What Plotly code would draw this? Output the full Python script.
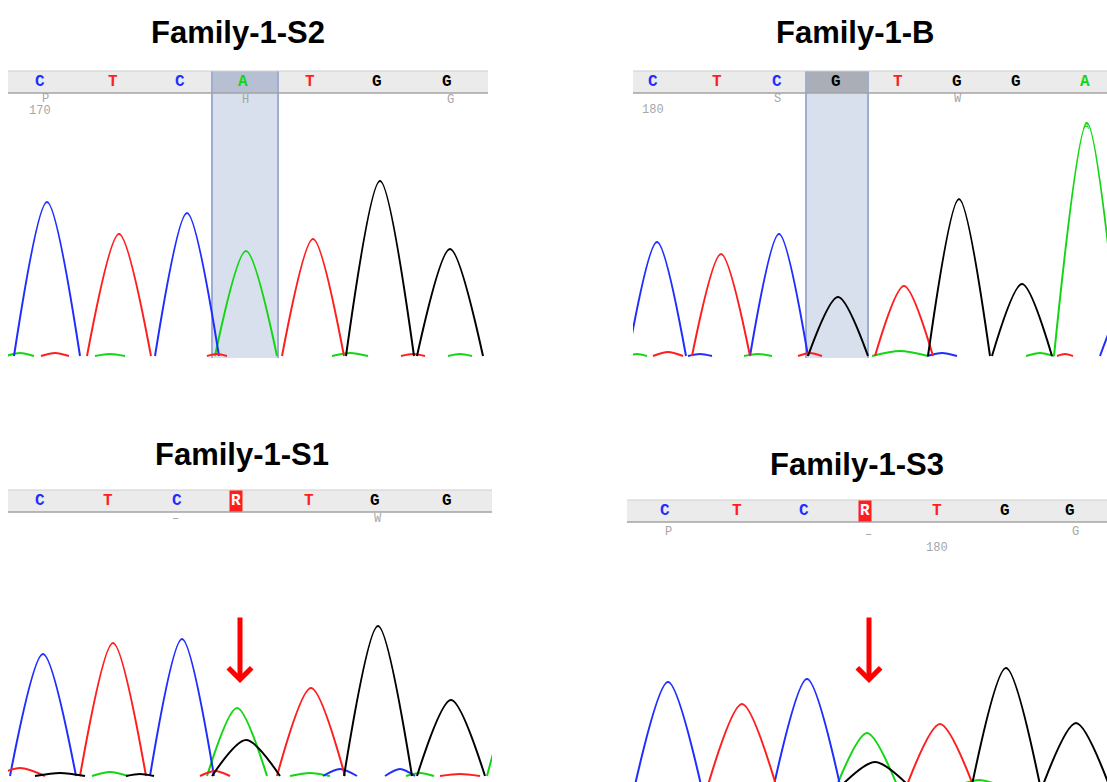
import plotly.graph_objects as go

W, H = 1107, 782

# ---------------------------------------------------------------- data
# Base calls in the header strip of each trace
s2_calls = ["C", "T", "C", "A", "T", "G", "G"]
s2_call_pos = [32, 105, 172, 235, 302, 369, 439]
b_calls = ["C", "T", "C", "G", "T", "G", "G", "A"]
b_call_pos = [20, 84, 144, 203, 265, 324, 383, 452]
s1_calls = ["C", "T", "C", "R", "T", "G", "G"]
s1_call_pos = [32, 100, 169, 228, 301, 367, 439]
s3_calls = ["C", "T", "C", "R", "T", "G", "G"]
s3_call_pos = [38, 110, 177, 238, 310, 378, 443]

# Main peaks: dye channel, scan position, signal height, half width at base
s2_peak_base = ["C", "T", "C", "A", "T", "G", "G"]
s2_peak_pos = [39, 111, 179, 238, 305, 372, 442]
s2_peak_height = [154, 122, 143, 105, 117, 175, 107]
s2_peak_hw = [33, 32, 32, 31, 31, 34, 33]

b_peak_base = ["C", "T", "C", "G", "T", "G", "G", "A", "C"]
b_peak_pos = [24, 88, 146, 205, 271, 326, 389, 454, 497]
b_peak_height = [114, 102, 122, 59, 70, 157, 72, 233, 60]
b_peak_hw = [29, 29, 29, 30, 29, 31, 30, 33, 30]

s1_peak_base = ["C", "T", "C", "A", "G", "T", "G", "G", "A"]
s1_peak_pos = [35, 105, 174, 229, 238, 303, 370, 443, 512]
s1_peak_height = [122, 133, 137, 68, 36, 88, 150, 76, 90]
s1_peak_hw = [33, 33, 32, 30, 34, 34, 34, 34, 33]

s3_peak_base = ["C", "T", "C", "A", "G", "T", "G", "G"]
s3_peak_pos = [41, 115, 180, 240, 248, 313, 379, 449]
s3_peak_height = [103, 81, 106, 52, 23, 61, 117, 62]
s3_peak_hw = [33, 34, 33, 30, 33, 33, 34, 33]

# Low-level background signal along the baseline
s2_bg_base = ["A", "A", "A", "A", "T", "T", "T"]
s2_bg_pos = [12, 102, 342, 452, 47, 209, 405]
s2_bg_height = [3, 2, 3, 2, 3, 2, 2]
s2_bg_hw = [14, 15, 18, 12, 14, 10, 12]

b_bg_base = ["T", "A", "C", "A", "T", "A", "C", "A", "T"]
b_bg_pos = [35, 4, 67, 125, 177, 267, 309, 407, 432]
b_bg_height = [4, 2, 2, 2, 3, 5, 3, 3, 2]
b_bg_hw = [15, 10, 12, 14, 12, 28, 15, 14, 8]

s1_bg_base = ["T", "G", "A", "G", "T", "A", "C", "C", "A", "T"]
s1_bg_pos = [12, 52, 102, 132, 207, 302, 332, 392, 412, 452]
s1_bg_height = [8, 3, 4, 2, 5, 3, 7, 7, 3, 2]
s1_bg_hw = [25, 25, 18, 14, 15, 20, 17, 15, 14, 20]

s3_bg_base = ["A"]
s3_bg_pos = [352]
s3_bg_height = [5]
s3_bg_hw = [20]

# Secondary annotation rows under the header strip
s2_sub = ["P", "170", "H", "G"]
b_sub = ["180", "S", "W"]
s1_sub = ["\u2013", "W"]
s3_sub = ["P", "\u2013", "180", "G"]

# ---------------------------------------------------------------- styling
DYE = {"A": "#12d612", "C": "#1f2eff", "G": "#000000", "T": "#ff1e1e"}

panels = [
    dict(title="Family-1-S2", title_xy=(238, 32),
         x0=8, x1=488, top=71, bar_bottom=93, bottom=358, baseline=356,
         calls=s2_calls, call_pos=s2_call_pos,
         peaks=(s2_peak_base, s2_peak_pos, s2_peak_height, s2_peak_hw),
         bg=(s2_bg_base, s2_bg_pos, s2_bg_height, s2_bg_hw),
         sub=s2_sub, sub_xy=[(37, 99), (32, 111), (237, 100), (442, 100)],
         highlight=(204, 270), hl_bar="#b7c0d2", arrow=None),
    dict(title="Family-1-B", title_xy=(855, 32),
         x0=633, x1=1107, top=71, bar_bottom=93, bottom=358, baseline=356,
         calls=b_calls, call_pos=b_call_pos,
         peaks=(b_peak_base, b_peak_pos, b_peak_height, b_peak_hw),
         bg=(b_bg_base, b_bg_pos, b_bg_height, b_bg_hw),
         sub=b_sub, sub_xy=[(20, 110), (144, 99), (325, 99)],
         highlight=(173, 235), hl_bar="#a9aeb7", arrow=None),
    dict(title="Family-1-S1", title_xy=(242, 454),
         x0=8, x1=492, top=490, bar_bottom=512, bottom=782, baseline=776,
         calls=s1_calls, call_pos=s1_call_pos,
         peaks=(s1_peak_base, s1_peak_pos, s1_peak_height, s1_peak_hw),
         bg=(s1_bg_base, s1_bg_pos, s1_bg_height, s1_bg_hw),
         sub=s1_sub, sub_xy=[(167, 519), (370, 519)],
         highlight=None, hl_bar=None, arrow=(3, 616, 683)),
    dict(title="Family-1-S3", title_xy=(857, 465),
         x0=627, x1=1107, top=500, bar_bottom=522, bottom=782, baseline=785,
         calls=s3_calls, call_pos=s3_call_pos,
         peaks=(s3_peak_base, s3_peak_pos, s3_peak_height, s3_peak_hw),
         bg=(s3_bg_base, s3_bg_pos, s3_bg_height, s3_bg_hw),
         sub=s3_sub, sub_xy=[(41, 532), (241, 535), (310, 548), (448, 532)],
         highlight=None, hl_bar=None, arrow=(3, 616, 683)),
]


def px(x):
    return x / W


def py(y):
    return 1 - y / H


def label(**kw):
    base = dict(showarrow=False, xanchor="center", yanchor="middle")
    base.update(kw)
    return base


fig = go.Figure()
shapes, annotations = [], []

for i, p in enumerate(panels, start=1):
    xa = "x" if i == 1 else f"x{i}"
    ya = "y" if i == 1 else f"y{i}"
    xname = "xaxis" if i == 1 else f"xaxis{i}"
    yname = "yaxis" if i == 1 else f"yaxis{i}"
    width = p["x1"] - p["x0"]
    fig.layout[xname] = dict(domain=[px(p["x0"]), px(p["x1"])], range=[0, width],
                             visible=False, anchor=ya, fixedrange=True)
    fig.layout[yname] = dict(domain=[py(p["bottom"]), py(p["top"])],
                             range=[p["baseline"] - p["bottom"], p["baseline"] - p["top"]],
                             visible=False, anchor=xa, fixedrange=True)

    # header strip
    shapes.append(dict(type="rect", xref="paper", yref="paper",
                       x0=px(p["x0"]), x1=px(p["x1"]), y0=py(p["bar_bottom"]), y1=py(p["top"]),
                       fillcolor="#ebebeb", line=dict(width=0), layer="below"))
    shapes.append(dict(type="line", xref="paper", yref="paper",
                       x0=px(p["x0"]), x1=px(p["x1"]), y0=py(p["top"]), y1=py(p["top"]),
                       line=dict(color="#cfcfcf", width=1)))
    shapes.append(dict(type="line", xref="paper", yref="paper",
                       x0=px(p["x0"]), x1=px(p["x1"]), y0=py(p["bar_bottom"]), y1=py(p["bar_bottom"]),
                       line=dict(color="#a3a3a3", width=1.5)))

    # highlighted base column
    if p["highlight"]:
        hx0, hx1 = p["highlight"]
        shapes.append(dict(type="rect", xref=xa, yref="paper", x0=hx0, x1=hx1,
                           y0=py(p["bottom"]), y1=py(p["bar_bottom"]),
                           fillcolor="#d8e0ee", line=dict(width=0), layer="below"))
        shapes.append(dict(type="rect", xref=xa, yref="paper", x0=hx0, x1=hx1,
                           y0=py(p["bar_bottom"]), y1=py(p["top"]),
                           fillcolor=p["hl_bar"], line=dict(width=0), layer="below"))
        for hx in (hx0, hx1):
            shapes.append(dict(type="line", xref=xa, yref="paper", x0=hx, x1=hx,
                               y0=py(p["bottom"]), y1=py(p["top"]),
                               line=dict(color="#9eadd0", width=2), layer="below"))

    # traces per dye channel
    for dye in ["A", "C", "T", "G"]:
        xs, ys = [], []
        for base, pos, h, hw in list(zip(*p["bg"])) + list(zip(*p["peaks"])):
            if base != dye:
                continue
            xs += [pos - hw, pos, pos + hw, None]
            ys += [0, h, 0, None]
        if xs:
            fig.add_trace(go.Scatter(x=xs, y=ys, mode="lines", xaxis=xa, yaxis=ya,
                                     line=dict(color=DYE[dye], width=2, shape="spline", smoothing=0.85),
                                     hoverinfo="skip", showlegend=False, connectgaps=False))

    # base call letters
    ymid = py((p["top"] + p["bar_bottom"]) / 2)
    for call, pos in zip(p["calls"], p["call_pos"]):
        if call == "R":
            annotations.append(label(x=pos, y=ymid, xref=xa, yref="paper", text="<b>R</b>",
                                     bgcolor="#ff1e1e", borderpad=1,
                                     font=dict(family="Liberation Mono", size=16, color="white")))
        else:
            annotations.append(label(x=pos, y=ymid, xref=xa, yref="paper", text=f"<b>{call}</b>",
                                     font=dict(family="Liberation Mono", size=16, color=DYE[call])))

    for txt, (sx, sy) in zip(p["sub"], p["sub_xy"]):
        annotations.append(label(x=sx, y=py(sy), xref=xa, yref="paper", text=txt,
                                 font=dict(family="Liberation Mono", size=12, color="#a6a6a6")))

    annotations.append(label(x=px(p["title_xy"][0]), y=py(p["title_xy"][1]), xref="paper", yref="paper",
                             text=f"<b>{p['title']}</b>",
                             font=dict(family="Liberation Sans", size=31, color="black")))

    if p["arrow"]:
        k, ytail, ytip = p["arrow"]
        annotations.append(dict(x=p["call_pos"][k] + 4, y=p["baseline"] - ytip, xref=xa, yref=ya,
                                ax=0, ay=-(ytip - ytail), text="", showarrow=True,
                                arrowhead=4, arrowwidth=5, arrowsize=0.9, arrowcolor="#ff0000"))

# faint peak label over the tallest peak of Family-1-B
annotations.append(label(x=453, y=py(127), xref="x2", yref="paper", text="A",
                         font=dict(family="Liberation Mono", size=10, color="#12d612")))

fig.update_layout(width=W, height=H, margin=dict(l=0, r=0, t=0, b=0),
                  paper_bgcolor="white", plot_bgcolor="rgba(0,0,0,0)",
                  shapes=shapes, annotations=annotations, showlegend=False)

fig.write_html("out.html", config={"displayModeBar": False})
